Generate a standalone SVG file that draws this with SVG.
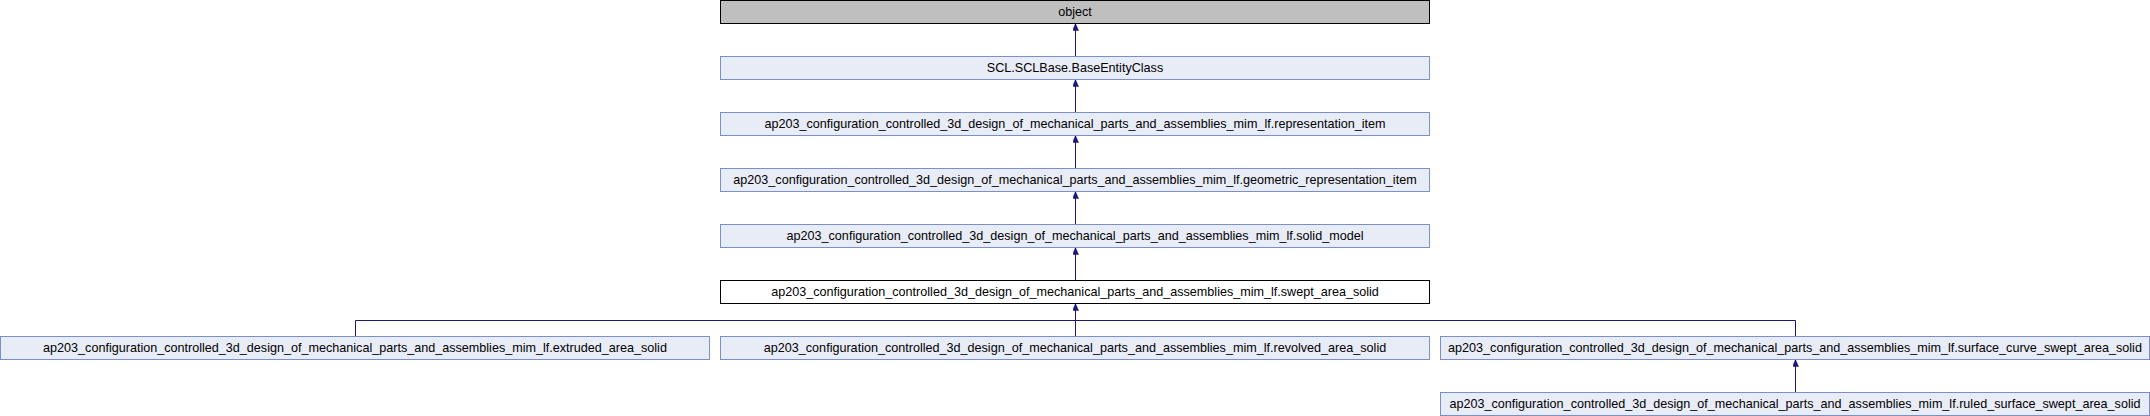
<svg xmlns="http://www.w3.org/2000/svg" width="2150" height="416" viewBox="0 0 2150 416">
<style>
.n rect{fill:#e8ecf6;stroke:#7b90c8;stroke-width:1}
.cur rect{fill:#ffffff;stroke:#000000}
.root rect{fill:#bfbfbf;stroke:#000000}
text{font-family:"Liberation Sans",Arial,Helvetica,sans-serif;font-size:12.6px;fill:#000;text-anchor:middle}
.e{fill:none;stroke:#191970;stroke-width:1}
</style>
<defs>
<marker id="ah" viewBox="0 0 7 6" refX="7" refY="3" markerWidth="7" markerHeight="6" markerUnits="userSpaceOnUse" orient="auto">
<path d="M0,0 L7,3 L0,6 z" fill="#191970" stroke="#191970" stroke-width="0.5"/>
</marker>
</defs>
<rect width="2150" height="416" fill="#ffffff"/>
<g id="connectors">
<path class="e" d="M1075.5,56.5 V23.5" marker-end="url(#ah)"/>
<path class="e" d="M1075.5,112.5 V79.5" marker-end="url(#ah)"/>
<path class="e" d="M1075.5,168.5 V135.5" marker-end="url(#ah)"/>
<path class="e" d="M1075.5,224.5 V191.5" marker-end="url(#ah)"/>
<path class="e" d="M1075.5,280.5 V247.5" marker-end="url(#ah)"/>
<path class="e" d="M1075.5,320.5 V303.5" marker-end="url(#ah)"/>
<path class="e" d="M355.5,336.5 V320.5 H1795.5 V336.5"/>
<path class="e" d="M1075.5,320.5 V336.5"/>
<path class="e" d="M1795.5,392.5 V359.5" marker-end="url(#ah)"/>
</g>
<g id="object" class="root"><rect x="720.5" y="0.5" width="709" height="23"/><text x="1075" y="15.5">object</text></g>
<g id="BaseEntityClass" class="n"><rect x="720.5" y="56.5" width="709" height="23"/><text x="1075" y="71.5">SCL.SCLBase.BaseEntityClass</text></g>
<g id="representation_item" class="n"><rect x="720.5" y="112.5" width="709" height="23"/><text x="1075" y="127.5">ap203_configuration_controlled_3d_design_of_mechanical_parts_and_assemblies_mim_lf.representation_item</text></g>
<g id="geometric_representation_item" class="n"><rect x="720.5" y="168.5" width="709" height="23"/><text x="1075" y="183.5">ap203_configuration_controlled_3d_design_of_mechanical_parts_and_assemblies_mim_lf.geometric_representation_item</text></g>
<g id="solid_model" class="n"><rect x="720.5" y="224.5" width="709" height="23"/><text x="1075" y="239.5">ap203_configuration_controlled_3d_design_of_mechanical_parts_and_assemblies_mim_lf.solid_model</text></g>
<g id="swept_area_solid" class="cur"><rect x="720.5" y="280.5" width="709" height="23"/><text x="1075" y="295.5">ap203_configuration_controlled_3d_design_of_mechanical_parts_and_assemblies_mim_lf.swept_area_solid</text></g>
<g id="extruded_area_solid" class="n"><rect x="0.5" y="336.5" width="709" height="23"/><text x="355" y="351.5">ap203_configuration_controlled_3d_design_of_mechanical_parts_and_assemblies_mim_lf.extruded_area_solid</text></g>
<g id="revolved_area_solid" class="n"><rect x="720.5" y="336.5" width="709" height="23"/><text x="1075" y="351.5">ap203_configuration_controlled_3d_design_of_mechanical_parts_and_assemblies_mim_lf.revolved_area_solid</text></g>
<g id="surface_curve_swept_area_solid" class="n"><rect x="1440.5" y="336.5" width="709" height="23"/><text x="1795" y="351.5">ap203_configuration_controlled_3d_design_of_mechanical_parts_and_assemblies_mim_lf.surface_curve_swept_area_solid</text></g>
<g id="ruled_surface_swept_area_solid" class="n"><rect x="1440.5" y="392.5" width="709" height="23"/><text x="1795" y="407.5">ap203_configuration_controlled_3d_design_of_mechanical_parts_and_assemblies_mim_lf.ruled_surface_swept_area_solid</text></g>
</svg>
